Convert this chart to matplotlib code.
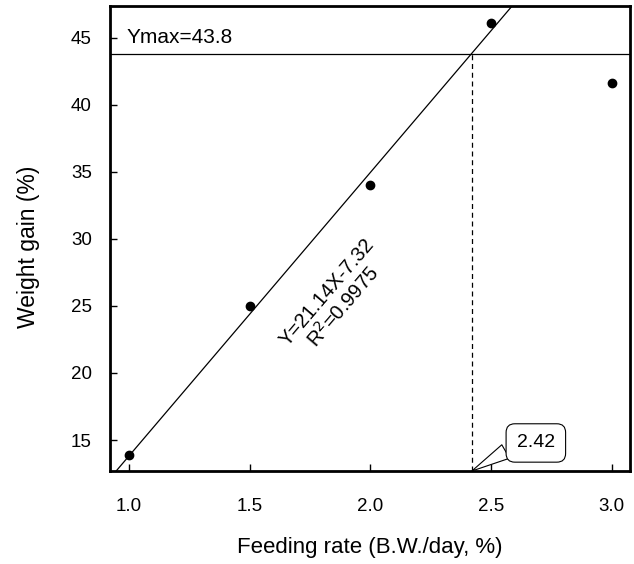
import numpy as np
import matplotlib.pyplot as plt

plt.rcParams['font.family'] = ['Liberation Sans', 'DejaVu Sans']

# data
feeding_rate = [1.0, 1.5, 2.0, 2.5, 3.0]
weight_gain = [13.9, 25.0, 34.0, 46.1, 41.6]
slope, intercept = 21.14, -7.32
ymax = 43.8
x_break = 2.42

fig = plt.figure(figsize=(6.34, 5.64), dpi=100)
ax = fig.add_axes([110/634, 1 - 471/564, 520/634, 465/564])

ax.set_xlim(0.921, 3.075)
ax.set_ylim(12.69, 47.36)

# regression line
xl = np.linspace(0.9, 3.1, 50)
ax.plot(xl, slope * xl + intercept, color='black', lw=0.9)
# plateau
ax.axhline(ymax, color='black', lw=0.9)
ax.plot([x_break, x_break], [12.69, ymax], color='black', lw=0.9, ls=(0, (4, 3)))

ax.scatter(feeding_rate, weight_gain, s=36, color='black', zorder=3)

ax.text(0.991, 45.0, 'Ymax=43.8', fontsize=15, va='center', ha='left')
ax.text(1.857, 25.45, 'Y=21.14X-7.32\nR$^2$=0.9975', fontsize=14.5, rotation=49.5,
        ha='center', va='center', rotation_mode='anchor', linespacing=1.05)

ax.annotate('2.42', xy=(x_break, 12.69), xytext=(2.685, 14.78), fontsize=14,
            ha='center', va='center',
            bbox=dict(boxstyle='round,pad=0.55,rounding_size=0.45', fc='white', ec='black', lw=0.8),
            arrowprops=dict(arrowstyle='wedge,tail_width=0.8,shrink_factor=0.5', fc='white', ec='black',
                            lw=0.8, relpos=(0.02, 0.4), shrinkA=0, shrinkB=0))

ax.set_xticks([1.0, 1.5, 2.0, 2.5, 3.0])
ax.set_xticklabels(['1.0', '1.5', '2.0', '2.5', '3.0'])
ax.set_yticks([15, 20, 25, 30, 35, 40, 45])
ax.tick_params(direction='in', length=5, width=1, labelsize=13.5)
ax.tick_params(axis='x', pad=19.5)
ax.tick_params(axis='y', pad=13)
for s in ax.spines.values():
    s.set_linewidth(2)

ax.set_xlabel('Feeding rate (B.W./day, %)', fontsize=16, va='center')
ax.set_ylabel('Weight gain (%)', fontsize=16.5, va='center')
ax.xaxis.set_label_coords(0.5, (471 - 548) / 465)
ax.yaxis.set_label_coords((29 - 110) / 520, (471 - 247) / 465)

fig.savefig('out.png', dpi=100)
